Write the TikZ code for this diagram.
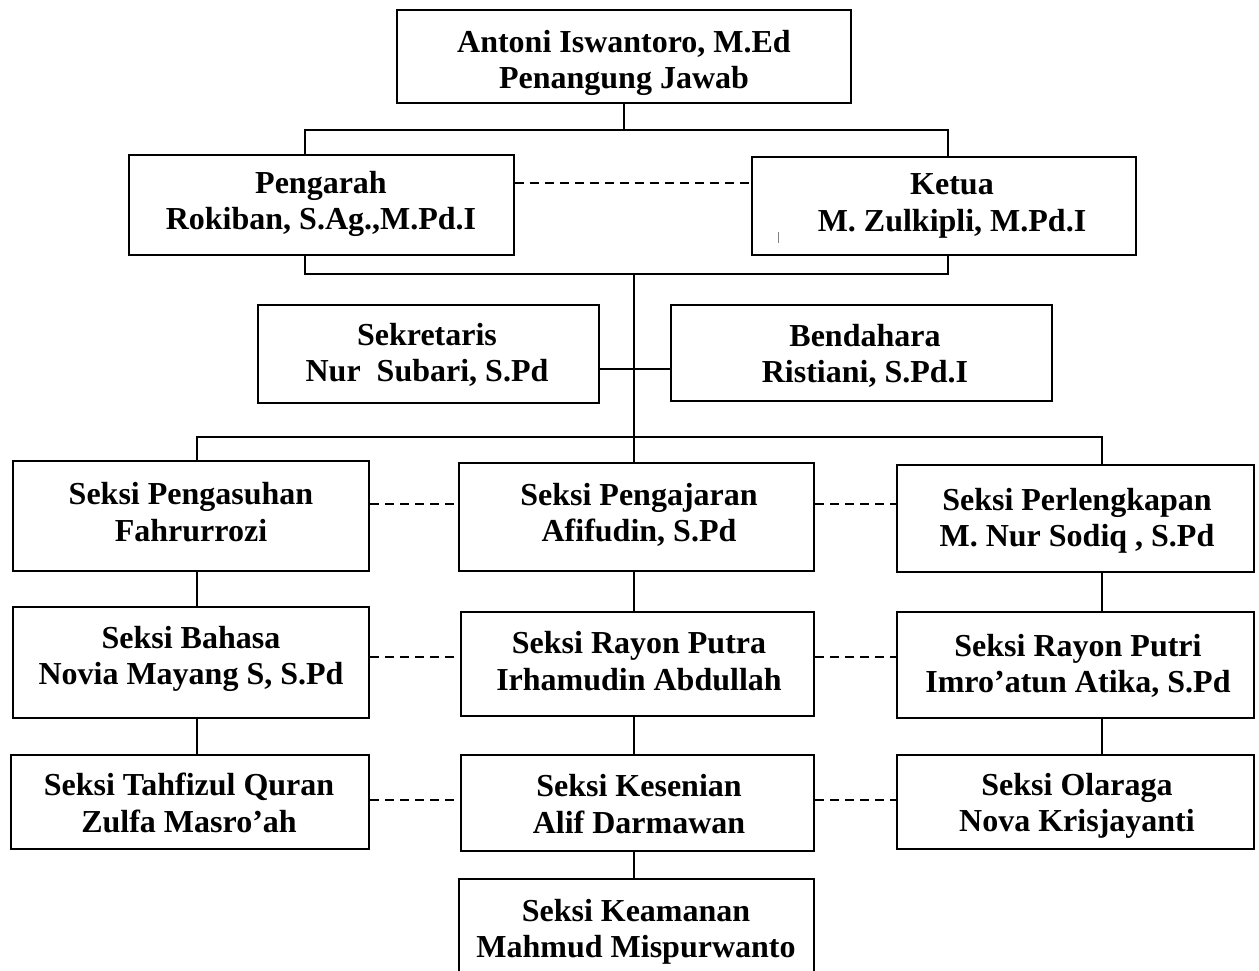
\documentclass[tikz,border=0pt]{standalone}
\usepackage{fontspec}
\setmainfont{Liberation Serif}
\usepackage{tikz}

\begin{document}
\begin{tikzpicture}[x=1pt,y=-1pt,
    box/.style={draw,line width=2.2pt,inner sep=0pt},
    txt/.style={align=center,font=\fontsize{32}{36.5}\selectfont\bfseries},
    link/.style={line width=1.6pt},
    dashlink/.style={line width=1.6pt,dash pattern=on 9pt off 6pt}]
    \useasboundingbox (0,0) rectangle (1259,970);
    \clip (0,0) rectangle (1259,970);

    % Penanggung jawab
    \node[box,minimum width=454pt,minimum height=93pt] (top) at (624,56.5) {};
    \node[txt] (top-t) at (624,63) {Antoni Iswantoro, M.Ed\\Penangung Jawab};

    % Pengarah and Ketua
    \node[box,minimum width=385pt,minimum height=100pt] (pengarah) at (321.5,205) {};
    \node[txt] (pengarah-t) at (321,204) {Pengarah\\Rokiban, S.Ag.,M.Pd.I};
    \node[box,minimum width=384pt,minimum height=98pt] (ketua) at (944,206) {};
    \node[txt] (ketua-t) at (952,206) {Ketua\\M. Zulkipli, M.Pd.I};
    \draw[gray,line width=1pt] (778,232) -- (778,243);

    % Sekretaris and Bendahara
    \node[box,minimum width=341pt,minimum height=98pt] (sekretaris) at (428.5,354) {};
    \node[txt] (sekretaris-t) at (427,355) {Sekretaris\\Nur\ \ Subari, S.Pd};
    \node[box,minimum width=381pt,minimum height=96pt] (bendahara) at (861.5,353) {};
    \node[txt] (bendahara-t) at (865,356) {Bendahara\\Ristiani, S.Pd.I};

    % Seksi, first row
    \node[box,minimum width=356pt,minimum height=110pt] (pengasuhan) at (191,516) {};
    \node[txt] (pengasuhan-t) at (191,512) {Seksi Pengasuhan\\Fahrurrozi};
    \node[box,minimum width=355pt,minimum height=108pt] (pengajaran) at (636.5,517) {};
    \node[txt] (pengajaran-t) at (639,515) {Seksi Pengajaran\\Afifudin, S.Pd};
    \node[box,minimum width=357pt,minimum height=107pt] (perlengkapan) at (1075.5,518.5) {};
    \node[txt] (perlengkapan-t) at (1077,521) {Seksi Perlengkapan\\M. Nur Sodiq , S.Pd};

    % Seksi, second row
    \node[box,minimum width=356pt,minimum height=111pt] (bahasa) at (191,662.5) {};
    \node[txt] (bahasa-t) at (191,659) {Seksi Bahasa\\Novia Mayang S, S.Pd};
    \node[box,minimum width=353pt,minimum height=104pt] (rayonputra) at (637.5,664) {};
    \node[txt] (rayonputra-t) at (639,661) {Seksi Rayon Putra\\Irhamudin Abdullah};
    \node[box,minimum width=357pt,minimum height=106pt] (rayonputri) at (1075.5,665) {};
    \node[txt] (rayonputri-t) at (1078,666) {Seksi Rayon Putri\\Imro’atun Atika, S.Pd};

    % Seksi, third row
    \node[box,minimum width=358pt,minimum height=94pt] (tahfizul) at (190,802) {};
    \node[txt] (tahfizul-t) at (189,803) {Seksi Tahfizul Quran\\Zulfa Masro’ah};
    \node[box,minimum width=353pt,minimum height=96pt] (kesenian) at (637.5,803) {};
    \node[txt] (kesenian-t) at (639,804) {Seksi Kesenian\\Alif Darmawan};
    \node[box,minimum width=357pt,minimum height=94pt] (olaraga) at (1075.5,802) {};
    \node[txt] (olaraga-t) at (1077,806) {Seksi Olaraga\\Nova Krisjayanti};

    % Keamanan, cut at the page edge
    \node[box,minimum width=355pt,minimum height=106pt] (keamanan) at (636.5,932) {};
    \node[txt] (keamanan-t) at (636,932) {Seksi Keamanan\\Mahmud Mispurwanto};

    % Buses and columns
    \coordinate (bus1) at (624,130);
    \coordinate (bus2) at (634,274);
    \coordinate (bus3) at (634,437);
    \coordinate (col1) at (197,437);
    \coordinate (col2) at (634,437);
    \coordinate (col3) at (1102,437);
    \coordinate (sekline) at ([yshift=-15pt]sekretaris.east);

    % Solid connectors
    \draw[link] (top.south) -- (bus1);
    \draw[link] ([xshift=-16.5pt]pengarah.north) |- (bus1) -| ([xshift=4pt]ketua.north);
    \draw[link] ([xshift=-16.5pt]pengarah.south) |- (bus2) -| ([xshift=4pt]ketua.south);
    \draw[link] (bus2) -- (bus3);
    \draw[link] (sekline) -- (sekline -| bendahara.west);
    \draw[link] (pengasuhan.north -| col1) |- (bus3) -| (perlengkapan.north -| col3);
    \draw[link] (bus3) -- (pengajaran.north -| col2);
    \draw[link] (pengasuhan.south -| col1) -- (bahasa.north -| col1);
    \draw[link] (bahasa.south -| col1) -- (tahfizul.north -| col1);
    \draw[link] (pengajaran.south -| col2) -- (rayonputra.north -| col2);
    \draw[link] (rayonputra.south -| col2) -- (kesenian.north -| col2);
    \draw[link] (kesenian.south -| col2) -- (keamanan.north -| col2);
    \draw[link] (perlengkapan.south -| col3) -- (rayonputri.north -| col3);
    \draw[link] (rayonputri.south -| col3) -- (olaraga.north -| col3);

    % Dashed connectors
    \coordinate (d1) at (630,183);
    \coordinate (d2) at (630,504);
    \coordinate (d3) at (630,657);
    \coordinate (d4) at (630,800);
    \draw[dashlink] (pengarah.east |- d1) -- (ketua.west |- d1);
    \draw[dashlink] (pengasuhan.east |- d2) -- (pengajaran.west |- d2);
    \draw[dashlink] (pengajaran.east |- d2) -- (perlengkapan.west |- d2);
    \draw[dashlink] (bahasa.east |- d3) -- (rayonputra.west |- d3);
    \draw[dashlink] (rayonputra.east |- d3) -- (rayonputri.west |- d3);
    \draw[dashlink] (tahfizul.east |- d4) -- (kesenian.west |- d4);
    \draw[dashlink] (kesenian.east |- d4) -- (olaraga.west |- d4);
\end{tikzpicture}
\end{document}
